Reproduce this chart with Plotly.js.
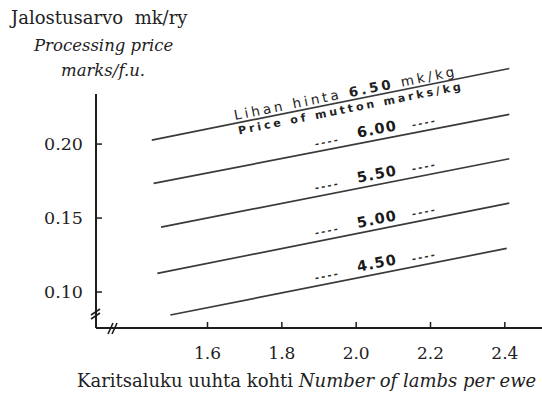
<!DOCTYPE html>
<html>
<head>
<meta charset="utf-8">
<script src="https://cdn.plot.ly/plotly-3.0.1.min.js"></script>
<style>
  html, body { margin: 0; padding: 0; background: #ffffff; }
  #chart { width: 542px; height: 401px; }
</style>
</head>
<body>
<div id="chart"></div>
<script>
// ---- data ----
const prices      = ["6.50", "6.00", "5.50", "5.00", "4.50"];   // price of mutton, marks/kg
const lambsStart  = [1.45, 1.455, 1.475, 1.465, 1.50];          // number of lambs per ewe (left end)
const lambsEnd    = [2.412, 2.412, 2.412, 2.412, 2.405];        // number of lambs per ewe (right end)
const valueStart  = [0.2027, 0.1734, 0.1439, 0.1126, 0.0845];   // processing price at left end
const valueEnd    = [0.2511, 0.2201, 0.1901, 0.1601, 0.1295];   // processing price at right end
const xTickVals   = [1.6, 1.8, 2.0, 2.2, 2.4];
const xTickText   = ["1.6", "1.8", "2.0", "2.2", "2.4"];
const yTickVals   = [0.10, 0.15, 0.20];
const yTickText   = ["0.10", "0.15", "0.20"];

// ---- layout geometry ----
const W = 542, H = 401;
const M = {l: 94, r: 0, t: 55, b: 71};
const xAxisAt = 1.3, yAxisAt = 0.0757, yAxisTop = 0.2338, xAxisEnd = 2.5;
const xRange = [xAxisAt - 2 / 371.67, 2.5];
const yRange = [yAxisAt - 2 / 1480, 0.2602];
const plotW = W - M.l - M.r, plotH = H - M.t - M.b;
const pxPerX = plotW / (xRange[1] - xRange[0]);
const pxPerY = plotH / (yRange[1] - yRange[0]);
const px2paperX = px => (px - M.l) / plotW;
const px2paperY = py => (H - M.b - py) / plotH;
const tickLen = 6;

const lineColor = "#3a3a3a";
const axisColor = "#1e1e1e";
const serif = "DejaVu Serif";
const sans = "DejaVu Sans";

const traces = prices.map((p, i) => ({
  type: "scatter", mode: "lines",
  x: [lambsStart[i], lambsEnd[i]],
  y: [valueStart[i], valueEnd[i]],
  line: {color: lineColor, width: 1.7},
  hoverinfo: "skip", showlegend: false
}));

// axis lines and inside ticks, placed through the axes' own scales
traces.push({type: "scatter", mode: "lines", x: [xAxisAt, xAxisEnd], y: [yAxisAt, yAxisAt],
  line: {color: axisColor, width: 2}, hoverinfo: "skip", showlegend: false});
traces.push({type: "scatter", mode: "lines", x: [xAxisAt, xAxisAt], y: [yAxisAt, yAxisTop],
  line: {color: axisColor, width: 2}, hoverinfo: "skip", showlegend: false});
const xtX = [], xtY = [];
xTickVals.forEach(v => { xtX.push(v, v, null); xtY.push(yAxisAt, yAxisAt + tickLen / pxPerY, null); });
traces.push({type: "scatter", mode: "lines", x: xtX, y: xtY, connectgaps: false,
  line: {color: axisColor, width: 1.5}, hoverinfo: "skip", showlegend: false});
const ytX = [], ytY = [];
yTickVals.forEach(v => { ytX.push(xAxisAt, xAxisAt + tickLen / pxPerX, null); ytY.push(v, v, null); });
traces.push({type: "scatter", mode: "lines", x: ytX, y: ytY, connectgaps: false,
  line: {color: axisColor, width: 1.5}, hoverinfo: "skip", showlegend: false});

function lineY(i, x) {
  const t = (x - lambsStart[i]) / (lambsEnd[i] - lambsStart[i]);
  return valueStart[i] + t * (valueEnd[i] - valueStart[i]);
}
function lineAngle(i) {
  const dy = (valueEnd[i] - valueStart[i]) * pxPerY;
  const dx = (lambsEnd[i] - lambsStart[i]) * pxPerX;
  return -Math.atan2(dy, dx) * 180 / Math.PI;
}

const annotations = [];
const spacing = [];
function addAnn(a, ls) { annotations.push(a); spacing.push(ls || 0); }

// top line label (6.50): Finnish above the line, English below
addAnn({
  x: 1.97, y: lineY(0, 1.97), xref: "x", yref: "y",
  text: "Lihan hinta <b>" + prices[0] + "</b> mk/kg",
  showarrow: false, textangle: lineAngle(0), yshift: 8.5, xanchor: "center", yanchor: "middle",
  font: {family: sans, size: 13.5, color: "#222"}
}, 3.1);
addAnn({
  x: 1.986, y: lineY(0, 1.986), xref: "x", yref: "y",
  text: "<b>Price of mutton marks/kg</b>",
  showarrow: false, textangle: lineAngle(0), yshift: -8, xanchor: "center", yanchor: "middle",
  font: {family: sans, size: 11, color: "#222"}
}, 3.0);

// other line labels:  ----  6.00  ----
const numX = 2.056, dashLX = 1.924, dashRX = 2.185;
for (let i = 1; i < prices.length; i++) {
  const ang = lineAngle(i);
  addAnn({x: numX, y: lineY(i, numX), xref: "x", yref: "y", text: "<b>" + prices[i] + "</b>",
    showarrow: false, textangle: ang, yshift: 11, font: {family: sans, size: 14.5, color: "#1a1a1a"}}, 1.2);
  addAnn({x: dashLX, y: lineY(i, dashLX), xref: "x", yref: "y", text: "<b>----</b>",
    showarrow: false, textangle: ang, yshift: 8.5, font: {family: sans, size: 10, color: "#2a2a2a"}}, 2.2);
  addAnn({x: dashRX, y: lineY(i, dashRX), xref: "x", yref: "y", text: "<b>----</b>",
    showarrow: false, textangle: ang, yshift: 8.5, font: {family: sans, size: 10, color: "#2a2a2a"}}, 2.2);
}

// axis titles
addAnn({x: px2paperX(98.5), y: px2paperY(17), xref: "paper", yref: "paper", text: "Jalostusarvo\u00a0 mk/ry",
  showarrow: false, xanchor: "center", yanchor: "middle", font: {family: serif, size: 18, color: "#222"}});
addAnn({x: px2paperX(103.5), y: px2paperY(45), xref: "paper", yref: "paper", text: "<i>Processing price</i>",
  showarrow: false, xanchor: "center", yanchor: "middle", font: {family: serif, size: 16.5, color: "#222"}});
addAnn({x: px2paperX(103), y: px2paperY(70), xref: "paper", yref: "paper", text: "<i>marks/f.u.</i>",
  showarrow: false, xanchor: "center", yanchor: "middle", font: {family: serif, size: 16.5, color: "#222"}});
addAnn({x: px2paperX(306), y: px2paperY(380), xref: "paper", yref: "paper",
  text: "Karitsaluku uuhta kohti <i>Number of lambs per ewe</i>",
  showarrow: false, xanchor: "center", yanchor: "middle", font: {family: serif, size: 18, color: "#222"}});

// axis break marks in paper coordinates
function seg(x0, y0, x1, y1, w) {
  return {type: "line", xref: "paper", yref: "paper",
    x0: px2paperX(x0), y0: px2paperY(y0), x1: px2paperX(x1), y1: px2paperY(y1),
    line: {color: axisColor, width: w}};
}
const shapes = [
  seg(91, 315, 100, 309, 1.6),
  seg(91, 319, 100, 313, 1.6),
  seg(108, 334, 113, 323, 1.6),
  seg(112, 334, 117, 323, 1.6)
];

const layout = {
  width: W, height: H,
  margin: M,
  paper_bgcolor: "#ffffff", plot_bgcolor: "rgba(0,0,0,0)",
  showlegend: false,
  xaxis: {
    range: xRange, showgrid: false, zeroline: false, showline: false,
    tickmode: "array", tickvals: xTickVals, ticktext: xTickText,
    ticks: "", ticklabelstandoff: 11,
    tickfont: {family: serif, size: 17, color: "#222"}
  },
  yaxis: {
    range: yRange, showgrid: false, zeroline: false, showline: false,
    tickmode: "array", tickvals: yTickVals, ticktext: yTickText,
    ticks: "", ticklabelstandoff: 10,
    tickfont: {family: serif, size: 17.5, color: "#222"}
  },
  annotations: annotations,
  shapes: shapes
};

Plotly.newPlot("chart", traces, layout, {staticPlot: true, displayModeBar: false}).then(gd => {
  spacing.forEach((ls, k) => {
    if (!ls) return;
    const t = gd.querySelector('g.annotation[data-index="' + k + '"] text.annotation-text');
    if (t) t.style.letterSpacing = ls + "px";
  });
});
</script>
</body>
</html>
